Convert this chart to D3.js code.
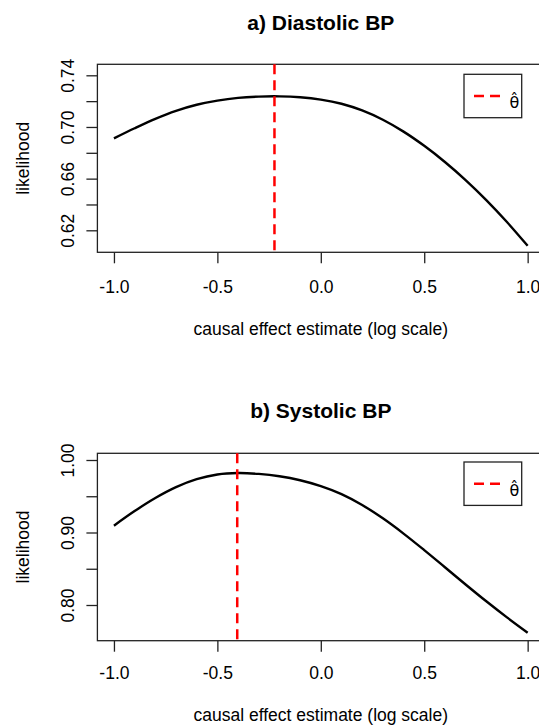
<!DOCTYPE html>
<html>
<head>
<meta charset="utf-8">
<script src="https://cdn.jsdelivr.net/npm/d3@7"></script>
<style>
  body { margin: 0; background: #fff; }
  text { font-family: "Liberation Sans", Arial, sans-serif; }
</style>
</head>
<body>
<div id="chart"></div>
<script>
// Datos
const xGrid = [-1.0, -0.9, -0.8, -0.7, -0.6, -0.5, -0.4, -0.3, -0.2, -0.1, 0.0,
               0.1, 0.2, 0.3, 0.4, 0.5, 0.6, 0.7, 0.8, 0.9, 1.0];

const diastolicLik = [0.6912, 0.6990, 0.7063, 0.7125, 0.7172, 0.7204, 0.7225, 0.7235, 0.7237, 0.7230, 0.7212,
                      0.7180, 0.7128, 0.7056, 0.6964, 0.6854, 0.6729, 0.6589, 0.6434, 0.6264, 0.6080];
const systolicLik  = [0.9094, 0.9295, 0.9475, 0.9625, 0.9735, 0.9800, 0.9820, 0.9808, 0.9776, 0.9721, 0.9640,
                      0.9530, 0.9380, 0.9195, 0.8985, 0.8757, 0.8521, 0.8283, 0.8051, 0.7829, 0.7618];

const diastolicTheta = -0.224;
const systolicTheta  = -0.404;

const xTicks = [-1.0, -0.5, 0.0, 0.5, 1.0];
const xTickLabels = ["-1.0", "-0.5", "0.0", "0.5", "1.0"];

const diastolicTicks = [0.62, 0.64, 0.66, 0.68, 0.70, 0.72, 0.74];
const diastolicTickLabels = ["0.62", "", "0.66", "", "0.70", "", "0.74"];
const systolicTicks = [0.80, 0.85, 0.90, 0.95, 1.00];
const systolicTickLabels = ["0.80", "", "0.90", "", "1.00"];

const titles = ["a) Diastolic BP", "b) Systolic BP"];
const xTitle = "causal effect estimate (log scale)";
const yTitle = "likelihood";
const legendLabel = "\u03B8\u0302";   // theta con sombrero

// Configuración
const width = 539, height = 727;
const left = 97.4, right = 544.2;

const panels = [
  { title: titles[0], values: diastolicLik, theta: diastolicTheta,
    ticks: diastolicTicks, labels: diastolicTickLabels,
    yDomain: [0.60297, 0.74852], top: 64.3, bottom: 252.3,
    titleY: 30, tickLabelY: 41, xTitleY: 335, legendTop: 74.3 },
  { title: titles[1], values: systolicLik, theta: systolicTheta,
    ticks: systolicTicks, labels: systolicTickLabels,
    yDomain: [0.75076, 1.00924], top: 453.3, bottom: 640.7,
    titleY: 417.7, tickLabelY: 38.6, xTitleY: 721, legendTop: 462 }
];

const svg = d3.select("#chart")
  .append("svg")
  .attr("width", width)
  .attr("height", height);

const x = d3.scaleLinear().domain([-1.08, 1.08]).range([left, right]);

panels.forEach(p => {
  const y = d3.scaleLinear().domain(p.yDomain).range([p.bottom, p.top]);
  const g = svg.append("g");

  // titulo
  g.append("text")
    .attr("x", (left + right) / 2)
    .attr("y", p.titleY)
    .attr("text-anchor", "middle")
    .style("font-size", "21px")
    .style("font-weight", "bold")
    .text(p.title);

  // eje x
  const xAxis = g.append("g")
    .attr("transform", `translate(0,${p.bottom})`)
    .call(d3.axisBottom(x).tickValues(xTicks).tickSize(11)
      .tickFormat((d, i) => xTickLabels[i]));
  xAxis.select(".domain").remove();
  xAxis.selectAll("line").attr("stroke", "#222").attr("stroke-width", 1.3);
  xAxis.selectAll("text")
    .attr("y", p.tickLabelY).attr("dy", 0)
    .attr("fill", "#000")
    .style("font-size", "17.5px")
    .style("font-family", "'Liberation Sans', Arial, sans-serif");

  // eje y, etiquetas giradas como en R
  const yAxis = g.append("g")
    .attr("transform", `translate(${left},0)`)
    .call(d3.axisLeft(y).tickValues(p.ticks).tickSize(11)
      .tickFormat((d, i) => p.labels[i]));
  yAxis.select(".domain").remove();
  yAxis.selectAll("line").attr("stroke", "#222").attr("stroke-width", 1.3);
  yAxis.selectAll("text")
    .attr("x", 0).attr("dy", 0)
    .attr("text-anchor", "middle")
    .attr("transform", "translate(-23,0) rotate(-90)")
    .attr("fill", "#000")
    .style("font-size", "17.5px")
    .style("font-family", "'Liberation Sans', Arial, sans-serif");

  // marco
  g.append("rect")
    .attr("x", left).attr("y", p.top)
    .attr("width", right - left).attr("height", p.bottom - p.top)
    .attr("fill", "none")
    .attr("stroke", "#222")
    .attr("stroke-width", 1.3);

  // curva
  const line = d3.line()
    .x((d, i) => x(xGrid[i]))
    .y(d => y(d))
    .curve(d3.curveCatmullRom);
  g.append("path")
    .datum(p.values)
    .attr("d", line)
    .attr("fill", "none")
    .attr("stroke", "#000")
    .attr("stroke-width", 2.4);

  // linea vertical del estimador
  g.append("line")
    .attr("x1", x(p.theta)).attr("x2", x(p.theta))
    .attr("y1", p.top).attr("y2", p.bottom)
    .attr("stroke", "#ff0000")
    .attr("stroke-width", 2.5)
    .attr("stroke-dasharray", "10,6");

  // leyenda
  const lg = g.append("g").attr("transform", `translate(464,${p.legendTop})`);
  lg.append("rect")
    .attr("width", 57.7).attr("height", 43.4)
    .attr("fill", "#fff")
    .attr("stroke", "#222")
    .attr("stroke-width", 1.3);
  lg.append("line")
    .attr("x1", 10).attr("x2", 36)
    .attr("y1", 21.7).attr("y2", 21.7)
    .attr("stroke", "#ff0000")
    .attr("stroke-width", 2.5)
    .attr("stroke-dasharray", "10,6");
  lg.append("text")
    .attr("x", 50.3).attr("y", 33.5)
    .attr("text-anchor", "middle")
    .style("font-size", "16px")
    .style("font-family", "'DejaVu Sans', sans-serif")
    .text(legendLabel);

  // titulos de ejes
  g.append("text")
    .attr("x", (left + right) / 2)
    .attr("y", p.xTitleY)
    .attr("text-anchor", "middle")
    .style("font-size", "17.5px")
    .text(xTitle);

  g.append("text")
    .attr("transform", `translate(29,${(p.top + p.bottom) / 2}) rotate(-90)`)
    .attr("text-anchor", "middle")
    .style("font-size", "17.5px")
    .text(yTitle);
});
</script>
</body>
</html>
